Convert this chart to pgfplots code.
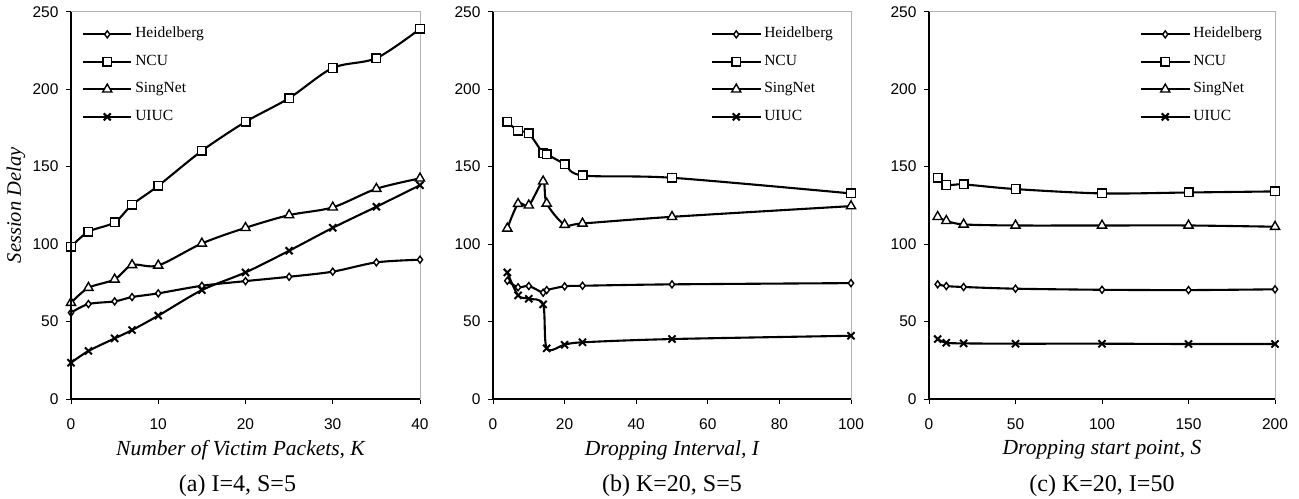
\documentclass[border=0pt]{standalone}
\usepackage{fontspec}
\setmainfont{Liberation Serif}
\newfontfamily\sansf{Liberation Sans}
\usepackage{pgfplots}
\usepackage{pgfplotstable}
\pgfplotsset{compat=1.18}

\pgfplotstableread{
x   hd    ncu   sg    ui
0   55.7  98.3  62.1  23.4
2   61.3  108   71.8  31
5   63    114   77.2  39.1
7   65.8  125.4 86.5  44.5
10  68.2  137.6 86.2  53.8
15  73.1  160.2 100.4 70.3
20  76.1  178.9 110.5 81.7
25  78.9  194.2 118.7 95.7
30  82.2  213.7 123.7 110.5
35  88.2  220   135.7 124.1
40  89.9  238.9 142.4 138
}\tabA

\pgfplotstableread{
x   hd    ncu   sg    ui
4   76.3  178.9 110.1 81.7
7   72.1  173.1 126   66.9
10  72.9  171.4 125   64.7
14  68.6  158.5 140.5 61.1
15  70.3  157.9 126.2 32.7
20  72.7  151.6 112.5 35
25  73.1  144.3 113.3 36.6
50  74    142.8 117.6 38.7
100 74.8  132.7 124.5 40.8
}\tabB

\pgfplotstableread{
x   hd    ncu   sg    ui
5   74    142.8 117.6 38.7
10  72.9  138.1 115   36.3
20  72.3  138.5 112.7 35.9
50  71.2  135.5 112   35.7
100 70.5  132.7 112   35.7
150 70.3  133.3 112   35.5
200 70.8  134   111.2 35.5
}\tabC

\pgfplotsset{
  panel/.style={
    scale only axis, clip=false,
    height=387.3bp,
    ymin=0, ymax=250, ytick={0,50,...,250},
    axis line style={draw=gray!60, line width=0.8bp},
    tick align=outside, xtick pos=bottom, ytick pos=left,
    major tick length=5bp, tick style={black, line width=1bp},
    /pgf/number format/assume math mode=true,
    ticklabel style={font=\fontsize{15.5bp}{17bp}\sansf},
    xticklabel style={yshift=-11bp},
    yticklabel style={xshift=-4bp},
    xlabel style={font=\fontsize{21.5bp}{24bp}\selectfont\itshape, at={(axis description cs:0.5,0)}, anchor=center, yshift=-51bp},
    ylabel style={font=\fontsize{20.5bp}{23bp}\selectfont\itshape, at={(axis description cs:0,0.5)}, anchor=center, yshift=55bp},
    legend style={draw=none, fill=none, at={(axis description cs:0,1)}, anchor=north west,
      inner sep=0pt, row sep=14.5bp, column sep=3bp,
      font=\fontsize{15.5bp}{17bp}\selectfont,
      nodes={inner sep=0pt, text height=10bp, text depth=3bp}},
    legend cell align=left,
    legend image code/.code={\draw[mark repeat=2,mark phase=2,#1] plot coordinates {(0bp,0bp)(24bp,0bp)(48bp,0bp)};},
    every axis plot/.append style={black, line width=2.1bp, smooth, tension=0.5},
    after end axis/.code={\draw[black, line width=1.3bp] (rel axis cs:0,1) -- (rel axis cs:0,0) -- (rel axis cs:1,0);},
  },
  hd/.style={mark=diamond*, mark size=3.5bp, mark options={solid, draw=black, fill=white, line width=1.4bp}},
  ncu/.style={mark=square*, mark size=4.3bp, mark options={solid, draw=black, fill=white, line width=1.4bp}},
  sg/.style={mark=triangle*, mark size=5.3bp, mark options={solid, draw=black, fill=white, line width=1.4bp}},
  ui/.style={mark=x, mark size=5bp, mark options={solid, draw=black, line width=2bp}},
}

\begin{document}
\begin{tikzpicture}
\path[use as bounding box] (0,0) rectangle (1299bp,499bp);

\begin{axis}[panel, at={(71bp,100bp)}, anchor=south west, width=349bp,
  xmin=0, xmax=40, xtick={0,10,...,40},
  xlabel={Number of Victim Packets, K}, ylabel={Session Delay},
  xlabel style={xshift=-5bp},
  legend style={xshift=11bp, yshift=-16bp},
  extra description/.code={\node[font=\fontsize{24bp}{26bp}\selectfont] at (axis description cs:0.5,0) [xshift=-8bp, yshift=-87bp] {(a) I=4, S=5};}]
\addplot[hd] table[x=x,y=hd] {\tabA};
\addplot[ncu] table[x=x,y=ncu] {\tabA};
\addplot[sg] table[x=x,y=sg] {\tabA};
\addplot[ui] table[x=x,y=ui] {\tabA};
\legend{Heidelberg,NCU,SingNet,UIUC}
\end{axis}

\begin{axis}[panel, at={(493bp,100bp)}, anchor=south west, width=358bp,
  xmin=0, xmax=100, xtick={0,20,...,100},
  xlabel={Dropping Interval, I},
  legend style={xshift=218bp, yshift=-16bp},
  extra description/.code={\node[font=\fontsize{24bp}{26bp}\selectfont] at (axis description cs:0.5,0) [yshift=-87bp] {(b) K=20, S=5};}]
\addplot[hd] table[x=x,y=hd] {\tabB};
\addplot[ncu] table[x=x,y=ncu] {\tabB};
\addplot[sg] table[x=x,y=sg] {\tabB};
\addplot[ui] table[x=x,y=ui] {\tabB};
\legend{Heidelberg,NCU,SingNet,UIUC}
\end{axis}

\begin{axis}[panel, at={(929bp,100bp)}, anchor=south west, width=346bp,
  xmin=0, xmax=200, xtick={0,50,...,200},
  xlabel={Dropping start point, S},
  legend style={xshift=211bp, yshift=-16bp},
  extra description/.code={\node[font=\fontsize{24bp}{26bp}\selectfont] at (axis description cs:0.5,0) [yshift=-87bp] {(c) K=20, I=50};}]
\addplot[hd] table[x=x,y=hd] {\tabC};
\addplot[ncu] table[x=x,y=ncu] {\tabC};
\addplot[sg] table[x=x,y=sg] {\tabC};
\addplot[ui] table[x=x,y=ui] {\tabC};
\legend{Heidelberg,NCU,SingNet,UIUC}
\end{axis}
\end{tikzpicture}
\end{document}
